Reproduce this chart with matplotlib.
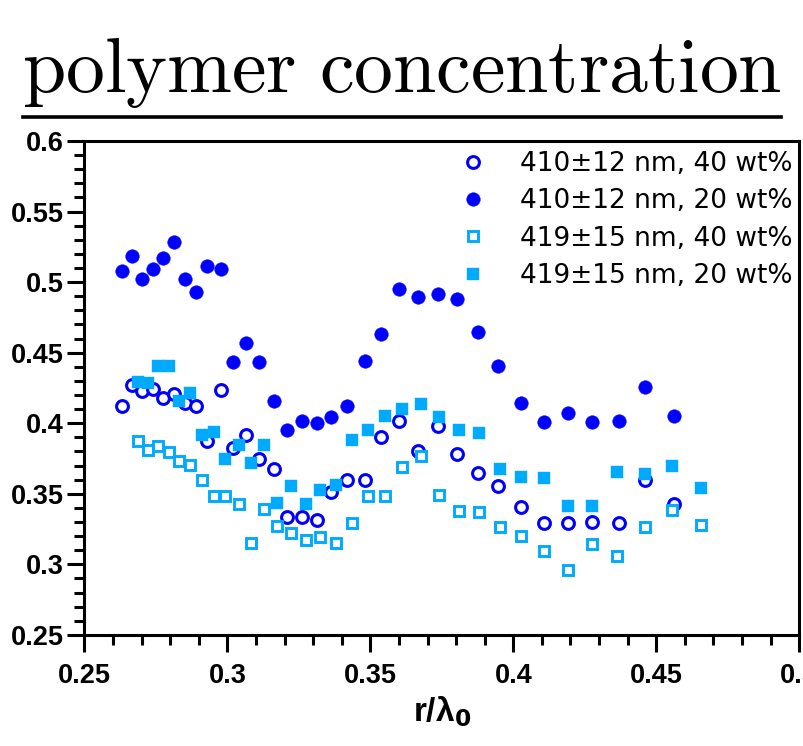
import matplotlib
matplotlib.use("Agg")
import matplotlib.pyplot as plt
from matplotlib.lines import Line2D
from matplotlib.ticker import MultipleLocator

# r/lambda0 positions (circles: 410 nm sample, squares: 419 nm sample)
x_circ = [0.2633, 0.2667, 0.2701, 0.2740, 0.2774, 0.2814, 0.2852, 0.2891, 0.2930,
          0.2977, 0.3020, 0.3065, 0.3111, 0.3162, 0.3208, 0.3260, 0.3312, 0.3364,
          0.3420, 0.3483, 0.3538, 0.3600, 0.3668, 0.3735, 0.3803, 0.3876, 0.3948,
          0.4026, 0.4106, 0.4190, 0.4274, 0.4370, 0.4459, 0.4561]
y_410_40 = [0.4125, 0.4269, 0.4231, 0.4245, 0.4177, 0.4207, 0.4142, 0.4122, 0.3877,
            0.4236, 0.3823, 0.3917, 0.3745, 0.3676, 0.3334, 0.3334, 0.3311, 0.3515,
            0.3598, 0.3598, 0.3905, 0.4018, 0.3806, 0.3983, 0.3780, 0.3646, 0.3554,
            0.3405, 0.3291, 0.3291, 0.3303, 0.3291, 0.3598, 0.3428]
y_410_20 = [0.5079, 0.5183, 0.5022, 0.5091, 0.5169, 0.5282, 0.5022, 0.4930, 0.5114,
            0.5091, 0.4432, 0.4567, 0.4432, 0.4156, 0.3950, 0.4018, 0.3998, 0.4042,
            0.4122, 0.4441, 0.4635, 0.4951, 0.4895, 0.4918, 0.4883, 0.4647, 0.4406,
            0.4144, 0.4007, 0.4075, 0.4007, 0.4018, 0.4257, 0.4052]

x_sq = [0.2689, 0.2723, 0.2757, 0.2796, 0.2830, 0.2870, 0.2910, 0.2954, 0.2993,
        0.3039, 0.3082, 0.3127, 0.3173, 0.3223, 0.3274, 0.3324, 0.3381, 0.3437,
        0.3493, 0.3550, 0.3612, 0.3679, 0.3741, 0.3809, 0.3881, 0.3953, 0.4026,
        0.4106, 0.4190, 0.4274, 0.4364, 0.4459, 0.4555, 0.4657]
y_419_40 = [0.3872, 0.3811, 0.3841, 0.3794, 0.3733, 0.3702, 0.3598, 0.3483, 0.3483,
            0.3426, 0.3154, 0.3391, 0.3272, 0.3223, 0.3173, 0.3192, 0.3154, 0.3291,
            0.3483, 0.3483, 0.3688, 0.3768, 0.3494, 0.3381, 0.3369, 0.3267, 0.3199,
            0.3097, 0.2958, 0.3143, 0.3062, 0.3267, 0.3383, 0.3279]
y_419_20 = [0.4295, 0.4283, 0.4408, 0.4408, 0.4156, 0.4215, 0.3919, 0.3940, 0.3745,
            0.3848, 0.3717, 0.3848, 0.3437, 0.3554, 0.3426, 0.3529, 0.3565, 0.3882,
            0.3950, 0.4054, 0.4099, 0.4137, 0.4042, 0.3950, 0.3929, 0.3676, 0.3619,
            0.3610, 0.3416, 0.3416, 0.3655, 0.3643, 0.3700, 0.3542]

labels = ["410±12 nm, 40 wt%", "410±12 nm, 20 wt%",
          "419±15 nm, 40 wt%", "419±15 nm, 20 wt%"]

dark = "#0000ff"
light = "#00aaff"
tick_font = "Liberation Sans"

fig = plt.figure(figsize=(8.04, 7.46), dpi=100)
ax = fig.add_axes([0.105, 0.149, 0.889, 0.662])

ax.plot(x_circ, y_410_40, "o", ls="none", ms=8.5, mfc="white", mec=dark, mew=2.2, label=labels[0])
ax.plot(x_circ, y_410_20, "o", ls="none", ms=9.8, mfc=dark, mec=dark, mew=0.3, label=labels[1])
ax.plot(x_sq, y_419_40, "s", ls="none", ms=7.9, mfc="white", mec=light, mew=2.1, label=labels[2])
ax.plot(x_sq, y_419_20, "s", ls="none", ms=9.3, mfc=light, mec=light, mew=0.3, label=labels[3])

ax.set_xlim(0.25, 0.5)
ax.set_ylim(0.25, 0.6)
ax.xaxis.set_major_locator(MultipleLocator(0.05))
ax.xaxis.set_minor_locator(MultipleLocator(0.01))
ax.yaxis.set_major_locator(MultipleLocator(0.05))
ax.yaxis.set_minor_locator(MultipleLocator(0.01))
ax.set_xticks([0.25, 0.3, 0.35, 0.4, 0.45, 0.5])
ax.set_xticklabels(["0.25", "0.3", "0.35", "0.4", "0.45", "0.5"])
ax.set_yticks([0.25, 0.3, 0.35, 0.4, 0.45, 0.5, 0.55, 0.6])
ax.set_yticklabels(["0.25", "0.3", "0.35", "0.4", "0.45", "0.5", "0.55", "0.6"])

for s in ax.spines.values():
    s.set_linewidth(2.2)
ax.tick_params(which="major", direction="out", length=12, width=2.2, top=False, right=False)
ax.tick_params(which="minor", direction="out", length=7.5, width=2.2, top=False, right=False)
ax.tick_params(axis="x", which="major", pad=8)
ax.tick_params(axis="y", which="major", pad=3)
for lab in ax.get_xticklabels() + ax.get_yticklabels():
    lab.set_fontfamily(tick_font)
    lab.set_fontweight("bold")
    lab.set_fontsize(19.5)

ax.set_xlabel(r"r/λ$_\mathbf{0}$", fontfamily=tick_font, fontweight="bold", fontsize=24, labelpad=4)

leg = ax.legend(loc="upper right", bbox_to_anchor=(1.013, 1.012), frameon=False,
                prop={"family": "DejaVu Sans", "size": 19}, labelspacing=0.43,
                handletextpad=0.8, borderaxespad=0.2)

fig.text(0.5, 0.877, r"$\mathrm{polymer\ concentration}$", ha="center", va="baseline",
         fontsize=56, math_fontfamily="cm")
fig.add_artist(Line2D([0.028, 0.972], [0.843, 0.843], transform=fig.transFigure,
                      color="black", lw=2.6))

fig.savefig("out.png", dpi=100)
